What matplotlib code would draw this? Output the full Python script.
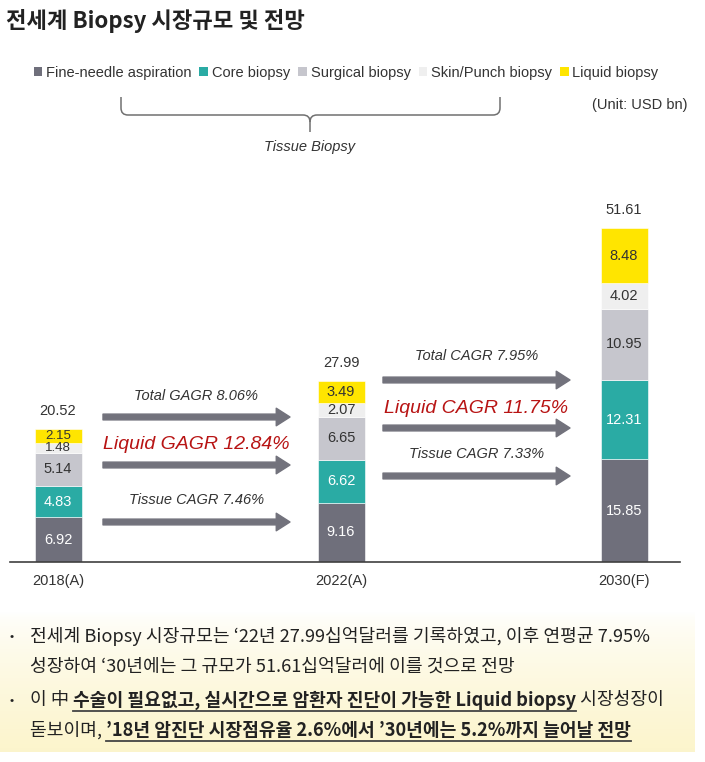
import matplotlib
matplotlib.use("Agg")
import matplotlib.pyplot as plt
import numpy as np
from matplotlib.patches import Patch
from matplotlib.path import Path
from matplotlib.patches import PathPatch

# ---------------- data ----------------
categories = ['2018(A)', '2022(A)', '2030(F)']
fna = [6.92, 9.16, 15.85]
core = [4.83, 6.62, 12.31]
surgical = [5.14, 6.65, 10.95]
skin = [1.48, 2.07, 4.02]
liquid = [2.15, 3.49, 8.48]
totals = [20.52, 27.99, 51.61]
series_names = ['Fine-needle aspiration', 'Core biopsy', 'Surgical biopsy',
                'Skin/Punch biopsy', 'Liquid biopsy']
growth_1 = ['Total GAGR 8.06%', 'Liquid GAGR 12.84%', 'Tissue CAGR 7.46%']
growth_2 = ['Total CAGR 7.95%', 'Liquid CAGR 11.75%', 'Tissue CAGR 7.33%']

colors = ['#6f6f7b', '#2aaba4', '#c6c6cd', '#efefef', '#ffe500']
label_colors = ['white', 'white', '#333333', '#333333', '#333333']

EN = ['Liberation Sans', 'DejaVu Sans']
KR = ['Noto Sans CJK KR', 'DejaVu Sans']

W, H = 705, 762
fig = plt.figure(figsize=(W / 100, H / 100), dpi=100)

# overlay axes in pixel coordinates
ov = fig.add_axes([0, 0, 1, 1])
ov.set_xlim(0, W)
ov.set_ylim(H, 0)
ov.axis('off')

# bottom gradient box
grad = np.linspace(0, 1, 256).reshape(-1, 1)
c_top = np.array([1.0, 1.0, 1.0])
c_bot = np.array([0.988, 0.96, 0.80])
img = c_top + (c_bot - c_top) * grad[..., None] ** 0.7
img = np.repeat(img, 2, axis=1)
ov.imshow(img, extent=[0, 695, 752, 612], aspect='auto', zorder=0)
ov.set_xlim(0, W)
ov.set_ylim(H, 0)

# title
ov.text(6, 21, '전세계 Biopsy 시장규모 및 전망', family=KR, fontsize=16,
        fontweight='bold', color='#222222', va='center', ha='left')

# legend
handles = [Patch(facecolor=c, edgecolor='none') for c in colors]
leg = fig.legend(handles, series_names, loc='center', bbox_to_anchor=(346 / W, 1 - 73 / H),
                 ncol=5, frameon=False, handlelength=0.6, handleheight=0.6,
                 handletextpad=0.25, columnspacing=0.55, borderaxespad=0,
                 prop={'family': EN, 'size': 10.5})
for t in leg.get_texts():
    t.set_color('#333333')

# unit
ov.text(688, 105, '(Unit: USD bn)', family=EN, fontsize=10.5, color='#333333',
        ha='right', va='center')

# brace
r = 7
verts = [(121, 97), (121, 115 - r), (121, 115), (121 + r, 115),
         (310 - r, 115), (310, 115), (310, 115 + r), (310, 132)]
codes = [Path.MOVETO, Path.LINETO, Path.CURVE3, Path.CURVE3,
         Path.LINETO, Path.CURVE3, Path.CURVE3, Path.LINETO]
verts2 = [(500, 97), (500, 115 - r), (500, 115), (500 - r, 115),
          (310 + r, 115), (310, 115), (310, 115 + r)]
codes2 = [Path.MOVETO, Path.LINETO, Path.CURVE3, Path.CURVE3,
          Path.LINETO, Path.CURVE3, Path.CURVE3]
for v, c in [(verts, codes), (verts2, codes2)]:
    ov.add_patch(PathPatch(Path(v, c), facecolor='none', edgecolor='#707070', lw=1.1))
ov.text(310, 147, 'Tissue Biopsy', family=EN, fontsize=10.5, style='italic',
        color='#333333', ha='center', va='center')

# ---------------- bar chart ----------------
px_unit = 6.47
base_px = 562
top_px = 190
ax_left, ax_right = 10, 680
ax = fig.add_axes([ax_left / W, (H - base_px) / H, (ax_right - ax_left) / W,
                   (base_px - top_px) / H])
ax.set_facecolor('none')
step = 283.0
x = np.arange(len(categories))
ax.set_xlim(-(58 - ax_left) / step, 2 + (ax_right - 624) / step)
ax.set_ylim(0, (base_px - top_px) / px_unit)
bw = 47 / step

bottom = np.zeros(len(categories))
for vals, col, lc in zip([fna, core, surgical, skin, liquid], colors, label_colors):
    vals = np.array(vals)
    ax.bar(x, vals, bw, bottom=bottom, color=col, edgecolor='white', linewidth=0.4, zorder=2)
    for xi, b, v in zip(x, bottom, vals):
        small = v < 2.5 and xi == 0
        ax.text(xi, b + v / 2, f'{v:.2f}', ha='center', va='center', color=lc,
                family=EN, fontsize=9.5 if small else 10.5, zorder=3)
    bottom += vals

for xi, t in zip(x, totals):
    ax.annotate(f'{t:.2f}', (xi, t), xytext=(0, 13), textcoords='offset points',
                ha='center', va='center', family=EN, fontsize=10.5, color='#333333')

for s in ['top', 'right', 'left']:
    ax.spines[s].set_visible(False)
ax.spines['bottom'].set_color('#404040')
ax.spines['bottom'].set_linewidth(1.2)
ax.set_yticks([])
ax.set_xticks(x)
ax.set_xticklabels(categories, family=EN, fontsize=10.5, color='#333333')
ax.tick_params(axis='x', length=0, pad=9)

# growth arrows
arrow_color = '#72727c'
def draw_arrows(x0, x1, ys, labels, label_dy):
    for i, (yv, lab) in enumerate(zip(ys, labels)):
        ax.annotate('', xy=(x1, yv), xytext=(x0, yv),
                    arrowprops=dict(arrowstyle='simple,head_length=0.9,head_width=1.15,tail_width=0.38',
                                    color=arrow_color, mutation_scale=11, shrinkA=0, shrinkB=0))
        red = lab.startswith('Liquid')
        ax.annotate(lab, ((x0 + x1) / 2, yv), xytext=(0, label_dy[i]), textcoords='offset points',
                    ha='center', va='center', family=EN, style='italic',
                    fontsize=14 if red else 10.5, color='#b81414' if red else '#333333')

ys1 = [(base_px - 417) / px_unit, (base_px - 465) / px_unit, (base_px - 522) / px_unit]
ys2 = [(base_px - 380) / px_unit, (base_px - 428) / px_unit, (base_px - 476) / px_unit]
x0a, x1a = (103 - 58) / step, (290 - 58) / step
x0b, x1b = (383 - 58) / step, (570 - 58) / step
draw_arrows(x0a, x1a, ys1, growth_1, [15, 15, 16])
draw_arrows(x0b, x1b, ys2, growth_2, [17, 14, 16])

# ---------------- bottom text ----------------
fig.canvas.draw()
renderer = fig.canvas.get_renderer()
fs = 13.1

def draw_line(x0, y, pieces):
    cur = x0
    for txt, bold in pieces:
        t = ov.text(cur, y, txt, family=KR, fontsize=fs, fontweight='bold' if bold else 'normal',
                    color='#222222', ha='left', va='center')
        bb = t.get_window_extent(renderer)
        if bold:
            ov.plot([cur, cur + bb.width], [y + 11, y + 11], color='#444444', lw=1.3)
        cur += bb.width

for yb in [637, 700]:
    ov.text(12, yb, '•', family=KR, fontsize=9, color='#222222', ha='center', va='center')

draw_line(30, 637, [('전세계 Biopsy 시장규모는 ‘22년 27.99십억달러를 기록하였고, 이후 연평균 7.95%', False)])
draw_line(30, 667, [('성장하여 ‘30년에는 그 규모가 51.61십억달러에 이를 것으로 전망', False)])
draw_line(30, 700, [('이 中 ', False), ('수술이 필요없고, 실시간으로 암환자 진단이 가능한 Liquid biopsy', True),
                    (' 시장성장이', False)])
draw_line(30, 730, [('돋보이며, ', False), ('’18년 암진단 시장점유율 2.6%에서 ’30년에는 5.2%까지 늘어날 전망', True)])

fig.savefig('out.png', dpi=100)
